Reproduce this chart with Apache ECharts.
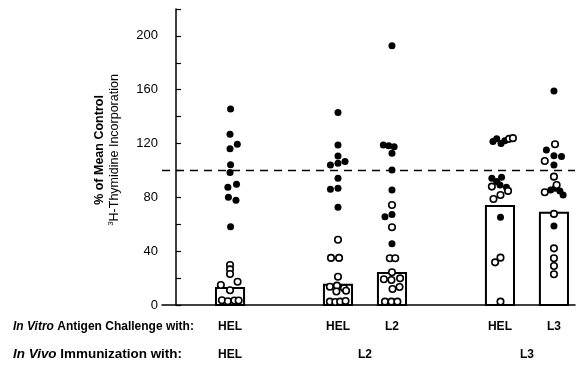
<!DOCTYPE html>
<html>
<head>
<meta charset="utf-8">
<script src="https://cdn.jsdelivr.net/npm/echarts@6/dist/echarts.min.js"></script>
<style>html,body{margin:0;padding:0;background:#fff}#c{width:581px;height:366px}</style>
</head>
<body>
<div id="c"></div>
<script>
// Column positions (axis units) and labels
var challengePos = [1, 3, 4, 6, 7];
var challengeLabels = ['HEL', 'HEL', 'L2', 'HEL', 'L3'];
var immunPos = [1, 3.5, 6.5];
var immunLabels = ['HEL', 'L2', 'L3'];
// Bar (mean) values per column
var barValues = [12.6, 15, 23.8, 73.6, 68.6];
var yTicks = [0, 40, 80, 120, 160, 200];
// Filled points: [x position incl. jitter, value]
var filledPoints = [
  [1.01,145.7],[1,126.9],[1,116.2],[1.135,119.5],[1.01,104.3],[1,98.4],[0.96,87.5],[1.12,89.7],[0.97,80],[1.11,77.8],[1.01,58.2],
  [3,143],[3,119],[3,110.8],[3.13,106.6],[2.86,104],[3,105.3],[3,94.2],[2.86,86],[3,86.7],[3,72.6],
  [4,192.6],[3.84,119],[3.94,118.3],[4.04,117.7],[4,112.8],[4,100.4],[4,85.5],[3.87,65.5],[4,67.3],[4,45.5],
  [5.87,121.5],[5.94,123.5],[6.02,120],[6.09,122],[5.85,94.2],[6.03,95],[5.94,91.7],[6,89.2],[6.12,87.5],[6.01,65.2],
  [7,159],[6.86,115.2],[7,111],[7.14,110.3],[7,104],[6.94,85.5],[7.02,86.7],[7.11,84.8],[7.17,81.8],[7,58.7]
];
// Open points: [x position incl. jitter, value]
var openPoints = [
  [1,29.7],[1,26.5],[1,23],[1.14,17.3],[0.83,14.9],[1,11],[0.85,3.5],[0.96,2.8],[1.08,3.3],[1.16,3.3],
  [3,48.5],[2.87,35],[3.02,35],[3,21],[2.85,13.6],[2.98,14.4],[3.11,12.4],[2.97,10],[3.15,10.6],[2.85,2.5],[2.95,2.2],[3.04,2.5],[3.14,3],
  [4,74.3],[4,57.8],[3.96,34.7],[4.06,34.7],[4,24.3],[3.85,19.1],[3.99,18.6],[4.15,19.8],[4.01,11.9],[4.14,13.4],[3.87,2.5],[3.99,2.5],[4.1,2.5],
  [6.17,123.5],[6.24,124],[5.85,88],[6.15,84.8],[6.01,81.8],[5.88,78.8],[6.01,35.2],[5.91,31.7],[6.01,2.5],
  [7.02,119.5],[6.83,107],[7,95.4],[7.05,89.2],[6.83,83.8],[7,67.7],[7,42.1],[7,34.7],[7,29],[7,22.8]
];
var refLine = 100;

var FONT = "'Liberation Sans', Arial, sans-serif";
var chart = echarts.init(document.getElementById('c'), null, {renderer: 'canvas'});
var option = {
  animation: false,
  backgroundColor: '#fff',
  grid: {left: 162, right: 6, top: 9, bottom: 61},
  xAxis: {
    type: 'value', min: -0.26, max: 7.39,
    axisLine: {show: true, lineStyle: {color: '#000', width: 1.5}},
    axisTick: {show: false}, axisLabel: {show: false}, splitLine: {show: false}
  },
  yAxis: {
    type: 'value', min: 0, max: 220, interval: 20,
    axisLine: {show: true, lineStyle: {color: '#000', width: 1.5}},
    axisTick: {show: true, inside: true, length: 5, lineStyle: {color: '#000', width: 1.2}},
    axisLabel: {
      color: '#000', fontFamily: FONT, fontSize: 13, margin: 4,
      formatter: function (v) { return yTicks.indexOf(v) >= 0 ? String(v) : ''; }
    },
    splitLine: {show: false}
  },
  series: [
    {
      type: 'custom', z: 1,
      data: challengePos.map(function (p, i) { return [p, barValues[i]]; }),
      renderItem: function (params, api) {
        var x = api.value(0), v = api.value(1);
        var a = api.coord([x - 0.26, v]);
        var b = api.coord([x + 0.26, 0]);
        return {type: 'rect', shape: {x: a[0], y: a[1], width: b[0] - a[0], height: b[1] - a[1]},
          style: {fill: '#fff', stroke: '#000', lineWidth: 2}};
      }
    },
    {
      type: 'scatter', z: 3, symbol: 'circle', symbolSize: 7,
      data: filledPoints,
      itemStyle: {color: '#000', opacity: 1},
      markLine: {
        silent: true, symbol: 'none', label: {show: false},
        lineStyle: {color: '#000', type: [8, 6], width: 1.3},
        data: [{yAxis: refLine}]
      }
    },
    {
      type: 'scatter', z: 4, symbol: 'circle', symbolSize: 6.5,
      data: openPoints,
      itemStyle: {color: '#fff', borderColor: '#000', borderWidth: 1.6, opacity: 1}
    }
  ]
};
chart.setOption(option);

var ROW1 = 327, ROW2 = 355;
var g = [];
var boldStyle = {fontFamily: FONT, fontSize: 12, fontWeight: 'bold', fill: '#000'};
var richRow = {i: {fontFamily: FONT, fontSize: 12, fontWeight: 'bold', fontStyle: 'italic', fill: '#000'},
               b: {fontFamily: FONT, fontSize: 12, fontWeight: 'bold', fill: '#000'}};
g.push({type: 'text', x: 13, y: ROW1, scaleX: 1.0, style: {
  text: '{i|In Vitro} {b|Antigen Challenge with:}', textVerticalAlign: 'middle', rich: richRow
}});
g.push({type: 'text', x: 13, y: ROW2, scaleX: 1.12, style: {
  text: '{i|In Vivo} {b|Immunization with:}', textVerticalAlign: 'middle', rich: richRow
}});
challengePos.forEach(function (p, i) {
  var px = chart.convertToPixel({xAxisIndex: 0}, p);
  g.push({type: 'text', x: px, y: ROW1, style: Object.assign({text: challengeLabels[i], textAlign: 'center', textVerticalAlign: 'middle'}, boldStyle)});
});
immunPos.forEach(function (p, i) {
  var px = chart.convertToPixel({xAxisIndex: 0}, p);
  g.push({type: 'text', x: px, y: ROW2, style: Object.assign({text: immunLabels[i], textAlign: 'center', textVerticalAlign: 'middle'}, boldStyle)});
});
g.push({type: 'text', x: 107, y: 150, rotation: Math.PI / 2, style: {
  text: '{a|% of Mean Control}\n{s|3}{n|H-Thymidine Incorporation}',
  textAlign: 'center', textVerticalAlign: 'middle',
  rich: {
    a: {fontFamily: FONT, fontSize: 12.5, fontWeight: 'bold', fill: '#000', lineHeight: 15},
    s: {fontFamily: FONT, fontSize: 8, fill: '#000', lineHeight: 15, verticalAlign: 'top', padding: [0, 0, 6, 0]},
    n: {fontFamily: FONT, fontSize: 12.5, fill: '#000', lineHeight: 15}
  }
}});
chart.setOption({graphic: g});
</script>
</body>
</html>
